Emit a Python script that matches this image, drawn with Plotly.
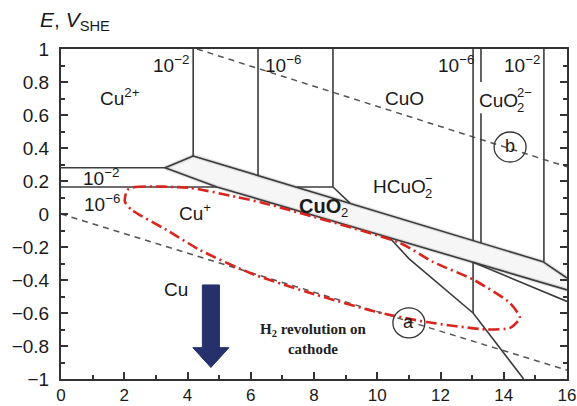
import plotly.graph_objects as go

# ---- Pourbaix diagram of Cu–H2O: boundary lines (pH, E in V vs SHE) ----
# water stability limits
h2_ph = [0.0, 16.0]
h2_e = [0.0, -0.947]
o2_ph = [4.3, 16.0]
o2_e = [1.0, 0.286]

# Cu2+/Cu+ horizontal boundaries (10^-2 and 10^-6)
cu2_hi_ph = [0.0, 3.29]
cu2_hi_e = [0.28, 0.28]
cu2_lo_ph = [0.0, 4.93]
cu2_lo_e = [0.164, 0.164]

# band edges
tri_ph = [3.29, 4.18]
tri_e = [0.28, 0.352]
upper_ph = [4.18, 15.24, 16.0]
upper_e = [0.352, -0.289, -0.388]
lower_ph = [3.29, 4.93, 16.0]
lower_e = [0.28, 0.164, -0.46]

# vertical boundaries (pH, E_top, E_bottom)
verticals = [
    (4.18, 1.0, 0.352),
    (6.23, 1.0, 0.234),
    (8.60, 1.0, 0.164),
    (13.03, 1.0, -0.161),
    (13.03, -0.293, -0.60),
    (13.28, 1.0, 0.80),
    (13.28, 0.61, -0.176),
    (15.27, 1.0, -0.289),
]

# small CuO2 pocket
pocket_ph = [7.46, 8.60, 9.14]
pocket_e = [0.164, 0.164, 0.066]

# Cu / HCuO2- boundaries
diag_ph = [10.4, 11.0, 13.03, 14.63]
diag_e = [-0.145, -0.27, -0.60, -1.0]
third_ph = [13.03, 16.0]
third_e = [-0.293, -0.53]

# working window (red dash-dot loop)
win_ph = [2.09, 2.34, 4.08, 5.56, 6.39, 10.72, 11.76, 13.06, 14.2, 14.51, 14.2,
          13.47, 11.57, 9.99, 7.78, 5.98, 4.39, 3.34, 2.24, 2.02, 2.09]
win_e = [0.145, 0.164, 0.158, 0.103, 0.067, -0.176, -0.29, -0.40, -0.54, -0.63, -0.69,
         -0.70, -0.655, -0.594, -0.473, -0.358, -0.218, -0.097, 0.024, 0.075, 0.145]

LINE = "#3c3c3c"
fig = go.Figure()

# shaded band
band_ph = tri_ph + upper_ph[1:] + lower_ph[::-1]
band_e = tri_e + upper_e[1:] + lower_e[::-1]
fig.add_trace(go.Scatter(x=band_ph, y=band_e, mode="lines", fill="toself",
                         fillcolor="#f6f6f6", line=dict(width=0), hoverinfo="skip"))

def seg(xs, ys, color=LINE, width=1.6, dash="solid", shape="linear"):
    fig.add_trace(go.Scatter(x=xs, y=ys, mode="lines",
                             line=dict(color=color, width=width, dash=dash, shape=shape),
                             hoverinfo="skip"))

# halo around band edges
for xs, ys in [(tri_ph, tri_e), (upper_ph, upper_e), (lower_ph, lower_e)]:
    seg(xs, ys, color="rgba(160,160,160,0.3)", width=4)

seg(h2_ph, h2_e, color="#555555", width=1.5, dash="6px,5px")
seg(o2_ph, o2_e, color="#555555", width=1.5, dash="6px,5px")
seg(cu2_hi_ph, cu2_hi_e)
seg(cu2_lo_ph, cu2_lo_e)
seg(tri_ph, tri_e)
seg(upper_ph, upper_e)
seg(lower_ph, lower_e)
for ph, et, eb in verticals:
    seg([ph, ph], [et, eb])
seg(pocket_ph, pocket_e)
seg(diag_ph, diag_e)
seg(third_ph, third_e)

fig.add_trace(go.Scatter(x=win_ph, y=win_e, mode="lines",
                         line=dict(color="#d8261e", width=2.6, dash="11px,4px,2px,4px",
                                   shape="spline", smoothing=0.6),
                         hoverinfo="skip"))

# cathodic arrow
arr_x, arr_top, arr_head, arr_tip = 4.74, -0.43, -0.81, -0.93
shaft_hw, head_hw = 0.27, 0.57
ax = [arr_x - shaft_hw, arr_x + shaft_hw, arr_x + shaft_hw, arr_x + head_hw, arr_x,
      arr_x - head_hw, arr_x - shaft_hw, arr_x - shaft_hw]
ay = [arr_top, arr_top, arr_head, arr_head, arr_tip, arr_head, arr_head, arr_top]
fig.add_trace(go.Scatter(x=ax, y=ay, mode="lines", fill="toself", fillcolor="#25306c",
                         line=dict(color="#25306c", width=1), hoverinfo="skip"))

SANS = "Liberation Sans, Arial, sans-serif"
TXT = "#1a1a1a"
LBL = 19

labels = [
    (1.87, 0.71, "Cu<sup>2+</sup>"),
    (3.48, 0.91, "10<sup>−2</sup>"),
    (7.02, 0.91, "10<sup>−6</sup>"),
    (10.86, 0.70, "CuO"),
    (12.5, 0.91, "10<sup>−6</sup>"),
    (14.58, 0.91, "10<sup>−2</sup>"),
    (1.25, 0.225, "10<sup>−2</sup>"),
    (1.3, 0.065, "10<sup>−6</sup>"),
    (4.25, 0.015, "Cu<sup>+</sup>"),
    (3.64, -0.455, "Cu"),
]
for x, y, t in labels:
    fig.add_annotation(x=x, y=y, text=t, showarrow=False,
                       font=dict(family=SANS, size=LBL, color=TXT))

# stacked sub/superscript labels
def stacked(x, y, base, sub, sup, base_w, bold=False, size=LBL):
    b = "<b>%s</b>" % base if bold else base
    fig.add_annotation(x=x, y=y, text=b, showarrow=False, xanchor="left",
                       font=dict(family=SANS, size=size, color=TXT))
    fig.add_annotation(x=x, y=y, text=sub, showarrow=False, xanchor="left",
                       xshift=base_w, yshift=-7, font=dict(family=SANS, size=13, color=TXT))
    if sup:
        fig.add_annotation(x=x, y=y, text=sup, showarrow=False, xanchor="left",
                           xshift=base_w, yshift=8, font=dict(family=SANS, size=13, color=TXT))

stacked(13.15, 0.69, "CuO", "2", "2−", 38)
stacked(9.8, 0.165, "HCuO", "2", "−", 52)
stacked(7.45, 0.05, "CuO", "2", None, 42, bold=True, size=20)

fig.add_annotation(x=7.97, y=-0.76,
                   text="<b>H<sub>2</sub> revolution on<br>cathode</b>", showarrow=False,
                   font=dict(family="Liberation Serif, Times New Roman, serif", size=15,
                             color="#222222"))

# circled markers
for cx, cy, t in [(11.0, -0.66, "a"), (14.2, 0.406, "b")]:
    fig.add_shape(type="circle", xref="x", yref="y", xsizemode="pixel", ysizemode="pixel",
                  xanchor=cx, yanchor=cy, x0=-16, x1=16, y0=-15, y1=15,
                  line=dict(color="#333333", width=1.3), fillcolor="rgba(255,255,255,0)")
    fig.add_annotation(x=cx, y=cy, text=t, showarrow=False, yshift=1,
                       font=dict(family=SANS, size=18, color=TXT))

fig.add_annotation(xref="paper", yref="paper", x=-0.046, y=1.085, xanchor="left",
                   yanchor="middle", text="<i>E</i>, <i>V</i><sub>SHE</sub>", showarrow=False,
                   font=dict(family=SANS, size=21, color=TXT))

fig.update_xaxes(range=[0, 16], dtick=2, tick0=0, showgrid=False, zeroline=False,
                 showline=True, linecolor="#333333", linewidth=2, mirror=True,
                 ticks="inside", ticklen=7, tickcolor="#333333", tickwidth=1.5,
                 minor=dict(dtick=1, ticks="inside", ticklen=4, tickcolor="#333333"),
                 tickfont=dict(family=SANS, size=17, color=TXT), ticklabelstandoff=0,
                 automargin=False)
fig.update_yaxes(range=[-1, 1], dtick=0.2, tick0=0, showgrid=False, zeroline=False,
                 showline=True, linecolor="#333333", linewidth=2, mirror="ticks",
                 ticks="inside", ticklen=7, tickcolor="#333333", tickwidth=1.5,
                 minor=dict(dtick=0.1, ticks="inside", ticklen=4, tickcolor="#333333"),
                 tickfont=dict(family=SANS, size=19, color=TXT), ticklabelstandoff=6,
                 automargin=False)

fig.update_layout(width=577, height=406, margin=dict(l=61, r=10, t=49, b=27),
                  paper_bgcolor="white", plot_bgcolor="white", showlegend=False)

fig.write_html("out.html")
